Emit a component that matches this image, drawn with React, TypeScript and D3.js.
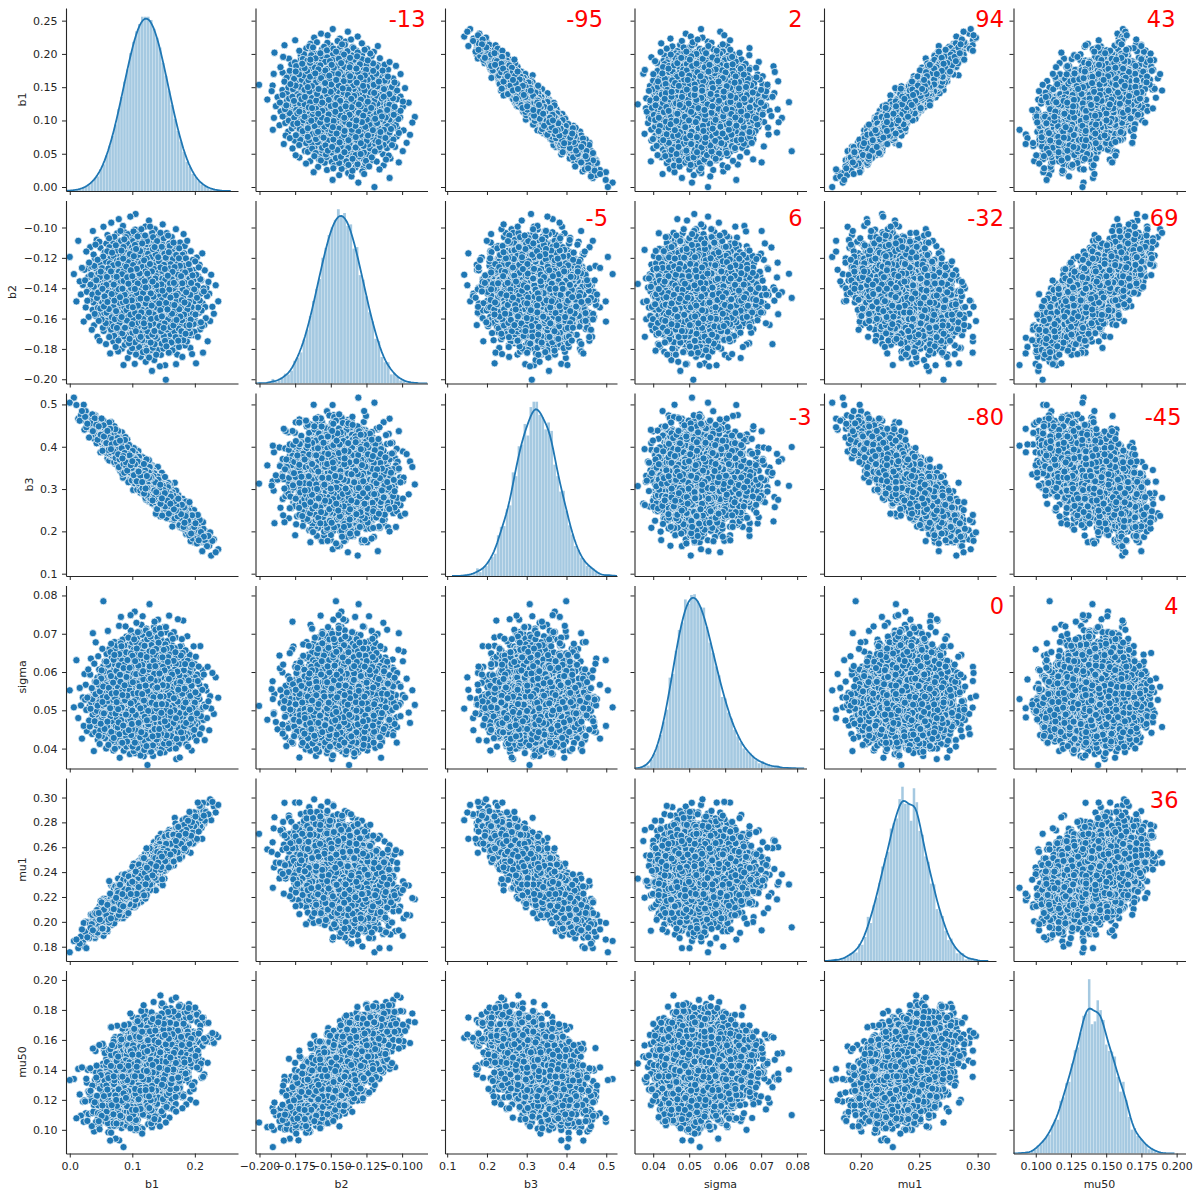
import React, { useEffect, useRef } from "react";
import * as d3 from "d3";

// ---------- data ----------
const VARIABLES = ["b1", "b2", "b3", "sigma", "mu1", "mu50"];
// location / spread of each marginal (sigma is a shifted log-normal)
const MEANS = [0.122, -0.143, 0.325, 0, 0.239, 0.141];
const SDS = [0.035, 0.0155, 0.054, 0, 0.0185, 0.0155];
const SIGMA_SHIFT = 0.0191;
const SIGMA_SCALE = 0.033;
const SIGMA_LOG_SD = 0.18;
// correlations ×100 (upper triangle, row by row) — the red numbers
const CORR_PERCENT = [-13, -95, 2, 94, 43, -5, 6, -32, 69, -3, -80, -45, 0, 4, 36];
const N_SAMPLES = 4000;
const HIST_BINS = 50;

// axis limits and ticks
const AXIS_DOMAINS: [number, number][] = [
  [-0.006, 0.269],
  [-0.2028, -0.0822],
  [0.0945, 0.527],
  [0.0348, 0.0826],
  [0.1685, 0.3157],
  [0.0842, 0.2063],
];
const X_TICKS = [
  [0.0, 0.1, 0.2],
  [-0.2, -0.175, -0.15, -0.125, -0.1],
  [0.1, 0.2, 0.3, 0.4, 0.5],
  [0.04, 0.05, 0.06, 0.07, 0.08],
  [0.2, 0.25, 0.3],
  [0.1, 0.125, 0.15, 0.175, 0.2],
];
const X_TICK_FORMATS = [".1f", ".3f", ".1f", ".2f", ".2f", ".3f"];
const Y_TICKS = [
  [0.0, 0.05, 0.1, 0.15, 0.2, 0.25],
  [-0.2, -0.18, -0.16, -0.14, -0.12, -0.1],
  [0.1, 0.2, 0.3, 0.4, 0.5],
  [0.04, 0.05, 0.06, 0.07, 0.08],
  [0.18, 0.2, 0.22, 0.24, 0.26, 0.28, 0.3],
  [0.1, 0.12, 0.14, 0.16, 0.18, 0.2],
];
const Y_TICK_FORMATS = [".2f", ".2f", ".1f", ".2f", ".2f", ".2f"];

// ---------- layout ----------
const W = 1200;
const H = 1197;
const LEFT0 = 66;
const COL_STEP = 189.5;
const CELL_W = 172;
const TOP0 = 8;
const ROW_STEP = 192.5;
const CELL_H = 183;
const BLUE = "#1f77b4";
const INK = "#262626";
const FONT = "DejaVu Sans, Verdana, sans-serif";
// red label right edges (offset from the cell's left) and baselines per row
const CORR_LABEL_RIGHT = [
  [170, 158, 168, 180, 162],
  [163, 168, 180, 165],
  [177, 180, 168],
  [180, 165],
  [165],
];
const CORR_LABEL_BASELINE = [19, 25.7, 32.4, 28.5, 30];

// ---------- helpers ----------
function invNorm(p: number): number {
  const a = [-3.969683028665376e1, 2.209460984245205e2, -2.759285104469687e2, 1.38357751867269e2, -3.066479806614716e1, 2.506628277459239];
  const b = [-5.447609879822406e1, 1.615858368580409e2, -1.556989798598866e2, 6.680131188771972e1, -1.328068155288572e1];
  const c = [-7.784894002430293e-3, -3.223964580411365e-1, -2.400758277161838, -2.549732539343734, 4.374664141464968, 2.938163982698783];
  const d = [7.784695709041462e-3, 3.224671290700398e-1, 2.445134137142996, 3.754408661907416];
  const plow = 0.02425;
  if (p < plow) {
    const q = Math.sqrt(-2 * Math.log(p));
    return (((((c[0] * q + c[1]) * q + c[2]) * q + c[3]) * q + c[4]) * q + c[5]) / ((((d[0] * q + d[1]) * q + d[2]) * q + d[3]) * q + 1);
  }
  if (p <= 1 - plow) {
    const q = p - 0.5;
    const r = q * q;
    return ((((((a[0] * r + a[1]) * r + a[2]) * r + a[3]) * r + a[4]) * r + a[5]) * q) / (((((b[0] * r + b[1]) * r + b[2]) * r + b[3]) * r + b[4]) * r + 1);
  }
  const q = Math.sqrt(-2 * Math.log(1 - p));
  return -(((((c[0] * q + c[1]) * q + c[2]) * q + c[3]) * q + c[4]) * q + c[5]) / ((((d[0] * q + d[1]) * q + d[2]) * q + d[3]) * q + 1);
}

function halton(i: number, base: number): number {
  let f = 1;
  let r = 0;
  while (i > 0) {
    f /= base;
    r += f * (i % base);
    i = Math.floor(i / base);
  }
  return r;
}

function corrMatrix(): number[][] {
  const n = VARIABLES.length;
  const R = d3.range(n).map((i) => d3.range(n).map((j) => (i === j ? 1 : 0)));
  let k = 0;
  for (let i = 0; i < n; i++)
    for (let j = i + 1; j < n; j++) {
      R[i][j] = R[j][i] = CORR_PERCENT[k++] / 100;
    }
  return R;
}

function cholesky(A: number[][]): number[][] {
  const n = A.length;
  const L = A.map(() => new Array(n).fill(0));
  for (let i = 0; i < n; i++)
    for (let j = 0; j <= i; j++) {
      let s = A[i][j];
      for (let k = 0; k < j; k++) s -= L[i][k] * L[j][k];
      if (i === j) L[i][i] = Math.sqrt(Math.max(s, 1e-6));
      else L[i][j] = s / L[j][j];
    }
  return L;
}

function buildSamples(): number[][] {
  const bases = [2, 3, 5, 7, 11, 13];
  const L = cholesky(corrMatrix());
  const n = VARIABLES.length;
  const cols = d3.range(n).map(() => new Array(N_SAMPLES));
  const skip = 37;
  for (let i = 0; i < N_SAMPLES; i++) {
    const z = bases.map((b) => invNorm(halton(i + skip, b)));
    for (let v = 0; v < n; v++) {
      let x = 0;
      for (let k = 0; k <= v; k++) x += L[v][k] * z[k];
      cols[v][i] = v === 3 ? SIGMA_SHIFT + SIGMA_SCALE * Math.exp(SIGMA_LOG_SD * x) : MEANS[v] + SDS[v] * x;
    }
  }
  return cols;
}

export default function App() {
  const ref = useRef<SVGSVGElement | null>(null);

  useEffect(() => {
    const svg = d3.select(ref.current);
    svg.selectAll("*").remove();
    const data = buildSamples();
    const n = VARIABLES.length;
    const defs = svg.append("defs");

    const xs = d3.range(n).map((c) =>
      d3.scaleLinear().domain(AXIS_DOMAINS[c]).range([LEFT0 + c * COL_STEP, LEFT0 + c * COL_STEP + CELL_W])
    );
    const ys = d3.range(n).map((r) =>
      d3.scaleLinear().domain(AXIS_DOMAINS[r]).range([TOP0 + r * ROW_STEP + CELL_H, TOP0 + r * ROW_STEP])
    );

    for (let r = 0; r < n; r++) {
      for (let c = 0; c < n; c++) {
        const x0 = LEFT0 + c * COL_STEP;
        const y0 = TOP0 + r * ROW_STEP;
        const g = svg.append("g");
        const clipId = `clip-${r}-${c}`;
        defs.append("clipPath").attr("id", clipId).append("rect").attr("x", x0).attr("y", y0 - 6).attr("width", CELL_W).attr("height", CELL_H + 6);

        if (r === c) {
          const vals = data[c];
          const [mn, mx] = d3.extent(vals) as [number, number];
          const bw = (mx - mn) / HIST_BINS;
          const thresholds = d3.range(1, HIST_BINS).map((k) => mn + k * bw);
          const bins = d3.bin().domain([mn, mx]).thresholds(thresholds)(vals);
          const dens = bins.map((b) => b.length / (N_SAMPLES * bw));
          const sd = d3.deviation(vals) as number;
          const h = sd * Math.pow(N_SAMPLES, -0.2);
          const grid = d3.range(100).map((k) => mn - 3 * h + (k * (mx - mn + 6 * h)) / 99);
          const norm = 1 / (N_SAMPLES * h * Math.sqrt(2 * Math.PI));
          const kde = grid.map((gx) => {
            let s = 0;
            for (let i = 0; i < N_SAMPLES; i++) {
              const u = (gx - vals[i]) / h;
              s += Math.exp(-0.5 * u * u);
            }
            return [gx, s * norm] as [number, number];
          });
          const ymax = 1.05 * Math.max(d3.max(dens) as number, d3.max(kde, (d) => d[1]) as number);
          const hy = d3.scaleLinear().domain([0, ymax]).range([y0 + CELL_H, y0]);
          const xsc = xs[c];
          const cg = g.append("g").attr("clip-path", `url(#${clipId})`);
          cg.selectAll("rect.bar")
            .data(bins)
            .join("rect")
            .attr("class", "bar")
            .attr("x", (b) => xsc(b.x0 as number))
            .attr("width", (b) => Math.max(0, xsc(b.x1 as number) - xsc(b.x0 as number) - 0.35))
            .attr("y", (_b, i) => hy(dens[i]))
            .attr("height", (_b, i) => hy(0) - hy(dens[i]))
            .attr("fill", BLUE)
            .attr("fill-opacity", 0.4);
          cg.append("path")
            .attr("d", d3.line<[number, number]>().x((d) => xsc(d[0])).y((d) => hy(d[1]))(kde) as string)
            .attr("fill", "none")
            .attr("stroke", BLUE)
            .attr("stroke-width", 1.8);
        } else {
          const xv = data[c];
          const yv = data[r];
          const xsc = xs[c];
          const ysc = ys[r];
          g.append("g")
            .selectAll("circle")
            .data(d3.range(N_SAMPLES))
            .join("circle")
            .attr("cx", (i) => xsc(xv[i]).toFixed(2))
            .attr("cy", (i) => ysc(yv[i]).toFixed(2))
            .attr("r", 3.6)
            .attr("fill", BLUE)
            .attr("stroke", "#ffffff")
            .attr("stroke-width", 0.7);
        }

        // axes
        const yAxis = d3
          .axisLeft(ys[r])
          .tickValues(Y_TICKS[r])
          .tickSize(4)
          .tickSizeOuter(0)
          .tickPadding(4.5)
          .tickFormat(c === 0 ? (d3.format(Y_TICK_FORMATS[r]) as any) : () => "");
        const ga = g.append("g").attr("transform", `translate(${x0},0)`).call(yAxis);
        const xAxis = d3
          .axisBottom(xs[c])
          .tickValues(X_TICKS[c])
          .tickSize(4)
          .tickSizeOuter(0)
          .tickPadding(5)
          .tickFormat(r === n - 1 ? (d3.format(X_TICK_FORMATS[c]) as any) : () => "");
        const gb = g.append("g").attr("transform", `translate(0,${y0 + CELL_H})`).call(xAxis);
        [ga, gb].forEach((ax) => {
          ax.attr("font-family", FONT).attr("font-size", 11);
          ax.select(".domain").attr("stroke", INK).attr("stroke-width", 1.1);
          ax.selectAll(".tick line").attr("stroke", INK).attr("stroke-width", 1);
          ax.selectAll(".tick text").attr("fill", INK);
        });

        if (c === 0) {
          const texts = ga.selectAll<SVGTextElement, unknown>(".tick text").nodes();
          const minX = d3.min(texts, (t) => t.getBBox().x) as number;
          const lx = x0 + minX - 7.5;
          svg
            .append("text")
            .attr("transform", `translate(${lx},${y0 + CELL_H / 2}) rotate(-90)`)
            .attr("text-anchor", "middle")
            .attr("font-family", FONT)
            .attr("font-size", 11)
            .attr("fill", INK)
            .text(VARIABLES[r]);
        }
        if (r === n - 1) {
          svg
            .append("text")
            .attr("x", x0 + CELL_W / 2)
            .attr("y", 1187.5)
            .attr("text-anchor", "middle")
            .attr("font-family", FONT)
            .attr("font-size", 11)
            .attr("fill", INK)
            .text(VARIABLES[c]);
        }
      }
    }

    // correlation labels in the upper triangle
    let k = 0;
    for (let r = 0; r < n; r++) {
      for (let c = r + 1; c < n; c++) {
        const x0 = LEFT0 + c * COL_STEP;
        const y0 = TOP0 + r * ROW_STEP;
        svg
          .append("text")
          .attr("x", x0 + CORR_LABEL_RIGHT[r][c - r - 1])
          .attr("y", y0 + CORR_LABEL_BASELINE[r])
          .attr("text-anchor", "end")
          .attr("font-family", FONT)
          .attr("font-size", 22.5)
          .attr("fill", "#ff0000")
          .text(String(CORR_PERCENT[k++]));
      }
    }
  }, []);

  return (
    <svg
      ref={ref}
      width={W}
      height={H}
      viewBox={`0 0 ${W} ${H}`}
      style={{ position: "absolute", left: 0, top: 0, background: "#ffffff" }}
    />
  );
}
